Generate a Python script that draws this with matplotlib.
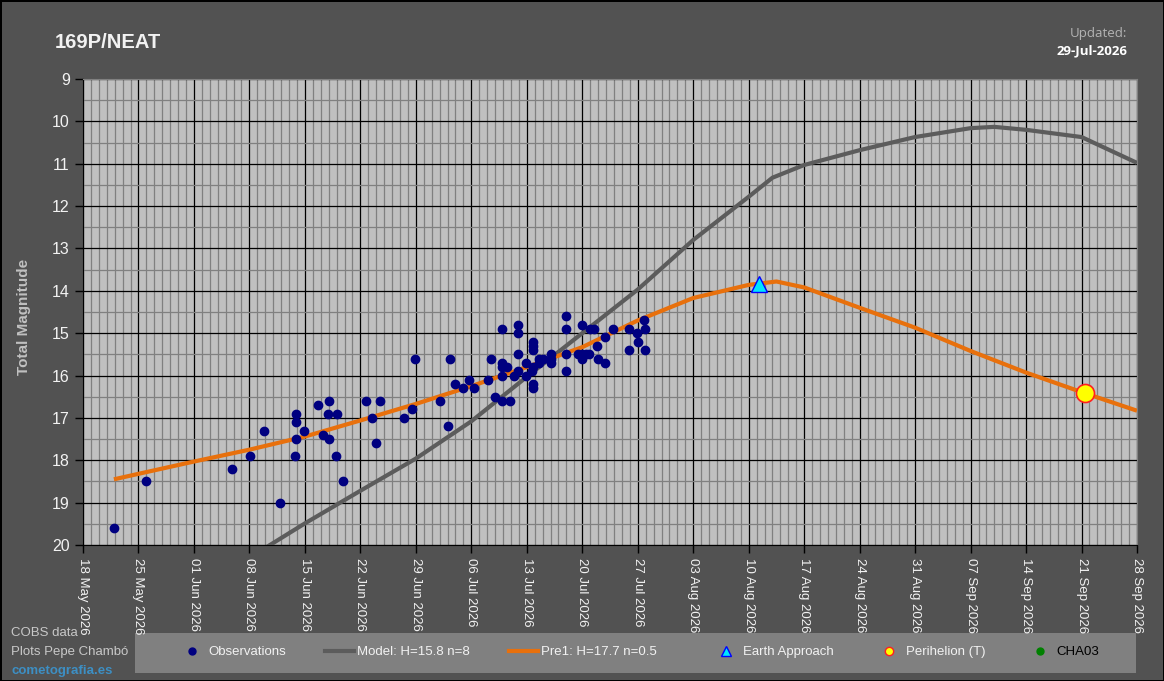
import pandas as pd
import numpy as np
import matplotlib
matplotlib.use("Agg")
import matplotlib.pyplot as plt
import matplotlib.dates as mdates
from matplotlib.lines import Line2D
from matplotlib.patches import Rectangle

plt.rcParams["font.family"] = ["Liberation Sans", "DejaVu Sans"]

START = pd.Timestamp("2026-05-18")
END   = pd.Timestamp("2026-09-28")

# observations: days after 18 May 2026, total magnitude
obs_day = [3.95, 8.0, 18.8, 21.1, 22.9, 24.9,
           26.9, 26.9, 26.9, 26.8, 27.9, 29.6,
           31.0, 30.9, 30.3, 31.0, 32.0, 31.9,
           32.8, 35.7, 36.5, 37.0, 37.5, 40.5,
           41.5, 41.9,
           45.0, 46.0, 46.3, 46.9, 47.9, 48.7, 49.4,
           51.1, 51.5, 52.0, 52.9, 52.9, 52.9, 52.9, 52.9,
           53.5, 53.9, 54.4, 54.9, 54.9, 54.9, 54.9,
           55.9, 55.9, 56.7, 56.8, 56.8, 56.8, 56.8, 56.8, 56.8,
           57.6, 57.6, 58.0, 59.0, 59.0, 59.0,
           60.9, 61.0, 60.9, 60.9,
           62.5, 63.0, 63.5, 63.8, 63.0, 63.0, 64.0, 64.5,
           64.9, 65.0, 65.9, 65.9, 66.9, 68.9, 68.9,
           69.9, 70.0, 70.8, 70.9, 70.9]
obs_mag = [19.6, 18.5, 18.2, 17.9, 17.3, 19.0,
           16.9, 17.1, 17.5, 17.9, 17.3, 16.7,
           16.6, 16.9, 17.4, 17.5, 16.9, 17.9,
           18.5, 16.6, 17.0, 17.6, 16.6, 17.0,
           16.8, 15.6,
           16.6, 17.2, 15.6, 16.2, 16.3, 16.1, 16.3,
           16.1, 15.6, 16.5, 14.9, 15.7, 15.8, 16.0, 16.6,
           15.8, 16.6, 16.0, 14.8, 15.0, 15.5, 15.9,
           15.7, 16.0, 15.9, 15.2, 15.3, 15.4, 15.8, 16.2, 16.3,
           15.6, 15.7, 15.6, 15.5, 15.6, 15.7,
           14.6, 14.9, 15.5, 15.9,
           15.5, 15.5, 15.5, 15.5, 15.6, 14.8, 14.9, 14.9,
           15.3, 15.6, 15.7, 15.1, 14.9, 14.9, 15.4,
           15.0, 15.2, 14.7, 14.9, 15.4]

# model curve H=15.8 n=8
model_day = [21, 28, 35, 42, 49, 56, 63, 70, 77, 84, 87, 91, 98, 105, 112, 115, 119, 126, 133]
model_mag = [20.3, 19.49, 18.72, 17.96, 17.08, 16.03, 15.0, 13.97, 12.80, 11.78, 11.33,
             11.03, 10.68, 10.37, 10.16, 10.13, 10.20, 10.37, 10.98]

# Pre1 curve H=17.7 n=0.5
pre1_day = [3.9, 7, 14, 21, 28, 35, 42, 49, 56, 63, 70, 77, 84, 87.5, 91, 98, 105, 112, 119, 126, 133]
pre1_mag = [18.45, 18.32, 18.03, 17.75, 17.44, 17.06, 16.67, 16.25, 15.80, 15.33, 14.70,
            14.17, 13.86, 13.78, 13.92, 14.40, 14.87, 15.42, 15.93, 16.39, 16.83]

earth_day, earth_mag = [85.3], [13.84]
peri_day, peri_mag = [126.4], [16.42]


def to_dates(days):
    return START + pd.to_timedelta(np.array(days), unit="D")


W, H = 1164, 681
fig = plt.figure(figsize=(W / 100, H / 100), dpi=100,
                 facecolor="#525252", edgecolor="black", linewidth=2)
ax = fig.add_axes([83 / W, 1 - 545 / H, (1137 - 83) / W, (545 - 79) / H])
ax.set_facecolor("#c0c0c0")

ax.plot(to_dates(model_day), model_mag, color="#5c5c5c", lw=3, zorder=3,
        solid_capstyle="butt")
ax.plot(to_dates(pre1_day), pre1_mag, color="#e8700c", lw=3, zorder=4,
        solid_capstyle="butt")
ax.plot(to_dates(obs_day), obs_mag, "o", color="#000080", ms=6, mec="#000080", zorder=5)
ax.plot(to_dates(earth_day), earth_mag, "^", color="#00e5ff", mec="#0000ff", mew=1,
        ms=12, zorder=6)
ax.plot(to_dates(peri_day), peri_mag, "o", color="#ffff00", mec="#ff2020", mew=1.2,
        ms=13, zorder=6)

ax.set_xlim(START, END)
ax.set_ylim(20, 9)
ax.set_yticks(np.arange(9, 21, 1))
ax.set_yticks(np.arange(9, 20.5, 0.5), minor=True)
ax.set_xticks(pd.date_range(START, END, freq="7D"))
ax.set_xticks(pd.date_range(START, END, freq="D"), minor=True)
ax.xaxis.set_major_formatter(mdates.DateFormatter("%d %b %Y"))

ax.set_axisbelow(True)
ax.grid(which="minor", color="#808080", lw=0.9)
ax.grid(which="major", color="black", lw=0.9)

ax.tick_params(which="major", direction="out", length=6, width=1, color="black",
               labelcolor="#f2f2f2", labelsize=11.5)
ax.tick_params(axis="x", which="major", labelsize=9.5, labelrotation=270, pad=3)
ax.tick_params(which="minor", length=0)
for lab in ax.get_xticklabels():
    lab.set_ha("center")
    lab.set_va("top")

for side in ["top", "right"]:
    ax.spines[side].set_color("#808080")
for side in ["left", "bottom"]:
    ax.spines[side].set_color("black")

ax.set_ylabel("Total Magnitude", color="#c0c0c0", fontsize=11, fontweight="bold")
ax.yaxis.set_label_coords((31 - 83) / (1137 - 83), 0.49)

fig.text(55 / W, 1 - 42 / H, "169P/NEAT", color="#f2f2f2", fontsize=14.5,
         fontweight="bold", va="center", ha="left")
fig.text(1127 / W, 1 - 33 / H, "Updated:", color="#b4b4b4", fontsize=9.5,
         family="Open Sans", va="center", ha="right")
fig.text(1127 / W, 1 - 51 / H, "29-Jul-2026", color="#ffffff", fontsize=9.5,
         family="Open Sans", fontweight="bold", va="center", ha="right")

fig.text(11 / W, 1 - 633 / H, "COBS data", color="#c8c8c8", fontsize=9.5, va="center")
fig.text(11 / W, 1 - 652 / H, "Plots Pepe Chambó", color="#c8c8c8", fontsize=9.5, va="center")
fig.text(11 / W, 1 - 671 / H, "cometografia.es", color="#3d8fc4", fontsize=9.5,
         fontweight="bold", va="center")

# legend band
fig.add_artist(Rectangle((135 / W, 1 - 673 / H), (1136 - 135) / W, 40 / H,
                         transform=fig.transFigure, facecolor="#808080",
                         edgecolor="none", zorder=0))

entries = [
    (177, Line2D([], [], ls="none", marker="o", color="#000080", ms=5), "Observations", "#f2f2f2"),
    (325, Line2D([], [], color="#5c5c5c", lw=3), "Model: H=15.8 n=8", "#f2f2f2"),
    (509, Line2D([], [], color="#e8700c", lw=3), "Pre1: H=17.7 n=0.5", "#f2f2f2"),
    (711, Line2D([], [], ls="none", marker="^", color="#00e5ff", mec="#0000ff", ms=7), "Earth Approach", "#f2f2f2"),
    (874, Line2D([], [], ls="none", marker="o", color="#ffff00", mec="#ff2020", ms=6), "Perihelion (T)", "#f2f2f2"),
    (1025, Line2D([], [], ls="none", marker="o", color="#008000", ms=5), "CHA03", "black"),
]
for x_px, handle, label, tcol in entries:
    fig.legend(handles=[handle], labels=[label], loc="center left",
               bbox_to_anchor=(x_px / W, 1 - 652 / H), frameon=False,
               borderpad=0, borderaxespad=0, handlelength=2.2, handletextpad=0.2,
               fontsize=9.5, labelcolor=tcol)

fig.savefig("out.png", dpi=100)
